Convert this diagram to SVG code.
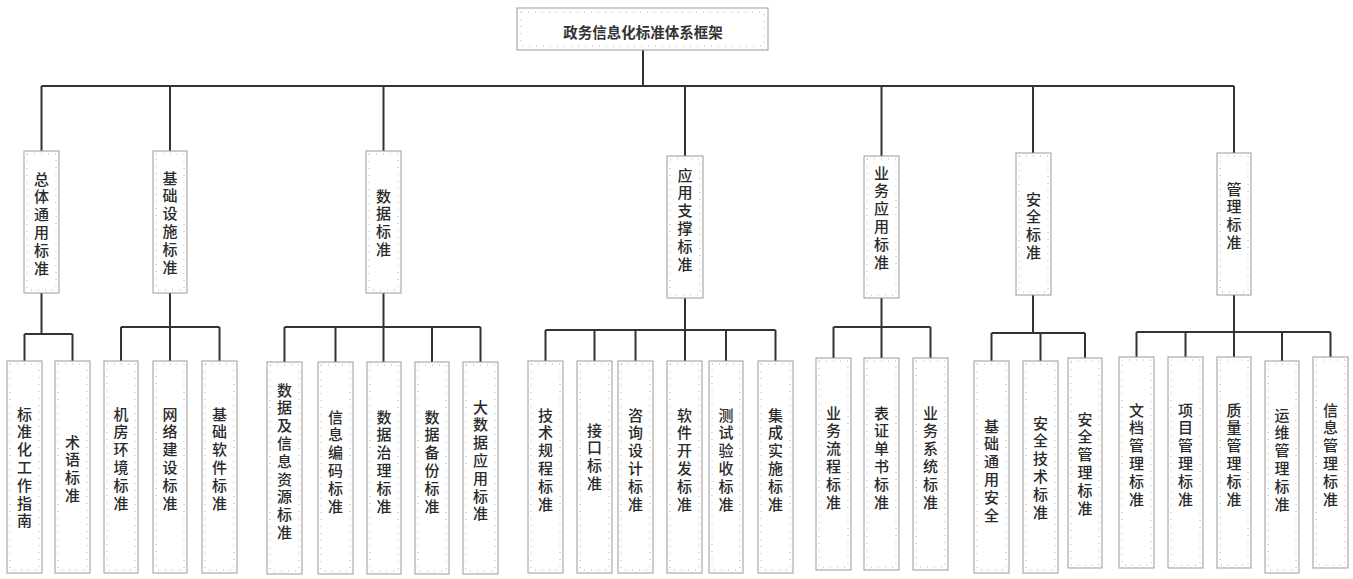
<svg xmlns="http://www.w3.org/2000/svg" width="1353" height="579" viewBox="0 0 1353 579">
<style>
.box{fill:#fff;stroke:#9a9a9a;stroke-width:1}
.grid{fill:none;stroke:#b4b4b4;stroke-width:1;stroke-dasharray:1 6}
.v{font-family:"Noto Sans CJK SC","Noto Sans",sans-serif;font-size:15px;font-weight:500;fill:#2a2a2a;writing-mode:vertical-rl;letter-spacing:2.8px}
.title{font-family:"Noto Sans CJK SC","Noto Sans",sans-serif;font-size:14.5px;font-weight:bold;fill:#333;text-anchor:middle;dominant-baseline:central}
.conn{stroke:#333;stroke-width:2;fill:none}
</style>
<g id="connectors">
<path class="conn" d="M643 50V86M41.5 86H1234M41.5 86V151M170 86V151M383.5 86V151M685 86V156M881.5 86V156M1033 86V153M1234 86V153"/>
<path class="conn" d="M41.5 293V334M24.5 334H72.5M24.5 334V361M72.5 334V361"/>
<path class="conn" d="M170 293V327M121 327H219.5M121 327V361M170 327V361M219.5 327V361"/>
<path class="conn" d="M383.5 293V327M284.5 327H480.5M284.5 327V362M335.5 327V362M383.5 327V362M432 327V362M480.5 327V362"/>
<path class="conn" d="M685 298V330M545.5 330H775.5M545.5 330V361M594.5 330V361M635.5 330V361M685 330V361M726 330V361M775.5 330V361"/>
<path class="conn" d="M881.5 298V327M833.5 327H930.5M833.5 327V358M881.5 327V358M930.5 327V358"/>
<path class="conn" d="M1033 295V333M991.5 333H1085M991.5 333V361M1040.5 333V361M1085 333V358"/>
<path class="conn" d="M1234 295V332M1136.5 332H1330.5M1136.5 332V357M1185.5 332V357M1234 332V357M1282 332V361M1330.5 332V357"/>
</g>
<g id="root">
<rect class="box" x="517" y="8" width="251" height="42"/>
<rect class="grid" x="521" y="12" width="243" height="34"/>
<text class="title" x="643" y="31">政务信息化标准体系框架</text>
</g>
<g id="m1"><rect class="box" x="24" y="151" width="35" height="142"/><rect class="grid" x="27" y="154" width="29" height="136"/>
<text class="v" x="41.5" y="171.5">总体通用标准</text></g>
<g id="m2"><rect class="box" x="153" y="151" width="34" height="142"/><rect class="grid" x="156" y="154" width="28" height="136"/>
<text class="v" x="170" y="170.5">基础设施标准</text></g>
<g id="m3"><rect class="box" x="366" y="151" width="35" height="142"/><rect class="grid" x="369" y="154" width="29" height="136"/>
<text class="v" x="383.5" y="188.5">数据标准</text></g>
<g id="m4"><rect class="box" x="667" y="156" width="36" height="142"/><rect class="grid" x="670" y="159" width="30" height="136"/>
<text class="v" x="685" y="167.5">应用支撑标准</text></g>
<g id="m5"><rect class="box" x="864" y="156" width="35" height="142"/><rect class="grid" x="867" y="159" width="29" height="136"/>
<text class="v" x="881.5" y="165.5">业务应用标准</text></g>
<g id="m6"><rect class="box" x="1016" y="153" width="35" height="142"/><rect class="grid" x="1019" y="156" width="29" height="136"/>
<text class="v" x="1033.5" y="191.5">安全标准</text></g>
<g id="m7"><rect class="box" x="1217" y="153" width="34" height="142"/><rect class="grid" x="1220" y="156" width="28" height="136"/>
<text class="v" x="1234" y="181.5">管理标准</text></g>

<g id="c1"><rect class="box" x="7" y="361" width="35" height="212"/><rect class="grid" x="10" y="364" width="29" height="206"/>
<text class="v" x="24.5" y="406.5">标准化工作指南</text></g>
<g id="c2"><rect class="box" x="55" y="361" width="35" height="212"/><rect class="grid" x="58" y="364" width="29" height="206"/>
<text class="v" x="72.5" y="434.5">术语标准</text></g>
<g id="c3"><rect class="box" x="104" y="361" width="34" height="212"/><rect class="grid" x="107" y="364" width="28" height="206"/>
<text class="v" x="121" y="406.5">机房环境标准</text></g>
<g id="c4"><rect class="box" x="153" y="361" width="34" height="212"/><rect class="grid" x="156" y="364" width="28" height="206"/>
<text class="v" x="170" y="406.5">网络建设标准</text></g>
<g id="c5"><rect class="box" x="202" y="361" width="35" height="212"/><rect class="grid" x="205" y="364" width="29" height="206"/>
<text class="v" x="219.5" y="406.5">基础软件标准</text></g>

<g id="c6"><rect class="box" x="267" y="362" width="35" height="212"/><rect class="grid" x="270" y="365" width="29" height="206"/>
<text class="v" x="284.5" y="382.5">数据及信息资源标准</text></g>
<g id="c7"><rect class="box" x="318" y="362" width="35" height="212"/><rect class="grid" x="321" y="365" width="29" height="206"/>
<text class="v" x="335.5" y="409.5">信息编码标准</text></g>
<g id="c8"><rect class="box" x="367" y="362" width="34" height="212"/><rect class="grid" x="370" y="365" width="28" height="206"/>
<text class="v" x="384" y="409.5">数据治理标准</text></g>
<g id="c9"><rect class="box" x="415" y="362" width="34" height="212"/><rect class="grid" x="418" y="365" width="28" height="206"/>
<text class="v" x="432" y="409.5">数据备份标准</text></g>
<g id="c10"><rect class="box" x="463" y="362" width="35" height="212"/><rect class="grid" x="466" y="365" width="29" height="206"/>
<text class="v" x="480.5" y="399.5">大数据应用标准</text></g>

<g id="c11"><rect class="box" x="528" y="361" width="35" height="212"/><rect class="grid" x="531" y="364" width="29" height="206"/>
<text class="v" x="545.5" y="407.5">技术规程标准</text></g>
<g id="c12"><rect class="box" x="577" y="361" width="35" height="212"/><rect class="grid" x="580" y="364" width="29" height="206"/>
<text class="v" x="594.5" y="422.5">接口标准</text></g>
<g id="c13"><rect class="box" x="618" y="361" width="35" height="212"/><rect class="grid" x="621" y="364" width="29" height="206"/>
<text class="v" x="635.5" y="407.5">咨询设计标准</text></g>
<g id="c14"><rect class="box" x="667" y="361" width="35" height="212"/><rect class="grid" x="670" y="364" width="29" height="206"/>
<text class="v" x="684.5" y="407.5">软件开发标准</text></g>
<g id="c15"><rect class="box" x="709" y="361" width="34" height="212"/><rect class="grid" x="712" y="364" width="28" height="206"/>
<text class="v" x="726" y="407.5">测试验收标准</text></g>
<g id="c16"><rect class="box" x="758" y="361" width="35" height="212"/><rect class="grid" x="761" y="364" width="29" height="206"/>
<text class="v" x="775.5" y="407.5">集成实施标准</text></g>

<g id="c17"><rect class="box" x="816" y="358" width="35" height="212"/><rect class="grid" x="819" y="361" width="29" height="206"/>
<text class="v" x="833.5" y="405.5">业务流程标准</text></g>
<g id="c18"><rect class="box" x="864" y="358" width="35" height="212"/><rect class="grid" x="867" y="361" width="29" height="206"/>
<text class="v" x="881.5" y="405.5">表证单书标准</text></g>
<g id="c19"><rect class="box" x="913" y="358" width="35" height="212"/><rect class="grid" x="916" y="361" width="29" height="206"/>
<text class="v" x="930.5" y="405.5">业务系统标准</text></g>

<g id="c20"><rect class="box" x="974" y="361" width="35" height="212"/><rect class="grid" x="977" y="364" width="29" height="206"/>
<text class="v" x="991.5" y="418.5">基础通用安全</text></g>
<g id="c21"><rect class="box" x="1023" y="361" width="35" height="212"/><rect class="grid" x="1026" y="364" width="29" height="206"/>
<text class="v" x="1040.5" y="415.5">安全技术标准</text></g>
<g id="c22"><rect class="box" x="1068" y="358" width="34" height="210"/><rect class="grid" x="1071" y="361" width="28" height="204"/>
<text class="v" x="1085" y="411.5">安全管理标准</text></g>

<g id="c23"><rect class="box" x="1119" y="357" width="35" height="211"/><rect class="grid" x="1122" y="360" width="29" height="205"/>
<text class="v" x="1136.5" y="402.5">文档管理标准</text></g>
<g id="c24"><rect class="box" x="1168" y="357" width="35" height="211"/><rect class="grid" x="1171" y="360" width="29" height="205"/>
<text class="v" x="1185.5" y="402.5">项目管理标准</text></g>
<g id="c25"><rect class="box" x="1217" y="357" width="34" height="211"/><rect class="grid" x="1220" y="360" width="28" height="205"/>
<text class="v" x="1234" y="402.5">质量管理标准</text></g>
<g id="c26"><rect class="box" x="1265" y="361" width="34" height="212"/><rect class="grid" x="1268" y="364" width="28" height="206"/>
<text class="v" x="1282" y="407.5">运维管理标准</text></g>
<g id="c27"><rect class="box" x="1313" y="357" width="35" height="211"/><rect class="grid" x="1316" y="360" width="29" height="205"/>
<text class="v" x="1330.5" y="402.5">信息管理标准</text></g>
</svg>
